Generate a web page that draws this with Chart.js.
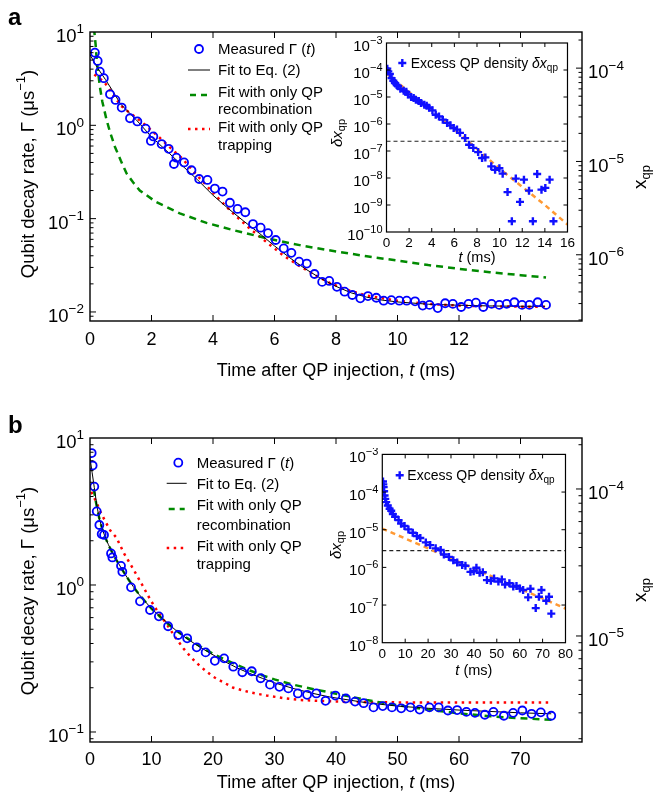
<!DOCTYPE html>
<html><head><meta charset="utf-8">
<script src="https://cdn.jsdelivr.net/npm/chart.js@4.4.1/dist/chart.umd.min.js"></script>
<style>
html,body{margin:0;padding:0;background:#fff;}
#wrap{position:relative;width:657px;height:800px;background:#fff;overflow:hidden;}
canvas{position:absolute;}
</style></head><body>
<div id="wrap">
<canvas id="mainA" width="657" height="400" style="left:0;top:0;width:657px;height:400px"></canvas>
<canvas id="mainB" width="657" height="400" style="left:0;top:400px;width:657px;height:400px"></canvas>
<canvas id="insetA" width="250" height="236" style="left:328px;top:36px;width:250px;height:236px"></canvas>
<canvas id="insetB" width="250" height="236" style="left:326px;top:448px;width:250px;height:236px"></canvas>
</div>
<script>
// ---------------- DATA: panel a (main) ----------------
const aTime = [0.16,0.25,0.32,0.45,0.65,0.83,1.03,1.3,1.54,1.81,1.98,2.06,2.33,2.56,2.73,2.81,3.06,3.3,3.55,3.82,4.06,4.31,4.55,4.8,5.05,5.3,5.55,5.79,6.04,6.3,6.55,6.8,7.05,7.3,7.55,7.78,8.03,8.28,8.53,8.79,9.04,9.31,9.55,9.8,10.06,10.3,10.57,10.82,11.04,11.31,11.55,11.8,12.07,12.31,12.55,12.79,13.06,13.31,13.55,13.8,14.05,14.29,14.56,14.83];
const aGamma = [6.0,4.9,3.76,3.2,2.15,1.87,1.55,1.19,1.1,0.92,0.68,0.76,0.63,0.56,0.385,0.45,0.40,0.33,0.266,0.26,0.21,0.195,0.148,0.127,0.117,0.0875,0.080,0.070,0.059,0.048,0.043,0.0346,0.033,0.0255,0.021,0.0215,0.0186,0.0165,0.0152,0.014,0.0148,0.0142,0.0132,0.0134,0.0132,0.0132,0.013,0.0117,0.0119,0.011,0.0124,0.0122,0.0113,0.0122,0.0126,0.0113,0.0122,0.0119,0.0122,0.0127,0.0119,0.0119,0.0127,0.0119];
const aFitT = [0,0.25,0.5,0.75,1,1.5,2,2.5,3,3.5,4,4.5,5,5.5,6,6.5,7,7.5,8,8.5,9,9.5,10,11,12,13,14,14.8];
const aFitGamma = [5.7,4.1,3.1,2.3,1.68,1.15,0.75,0.53,0.37,0.26,0.178,0.128,0.094,0.07,0.051,0.038,0.029,0.0229,0.0188,0.016,0.0144,0.0134,0.0128,0.0121,0.0118,0.0116,0.0115,0.0115];
const aRecT = [0.13,0.18,0.22,0.27,0.32,0.4,0.54,0.65,0.81,1.0,1.19,1.4,1.62,2.16,2.92,3.79,4.65,5.74,6.82,7.73,9,10,11,12,13,14,14.83];
const aRecGamma = [11,7.5,5,3.6,2.6,1.8,1.14,0.85,0.59,0.42,0.305,0.245,0.2,0.15,0.114,0.09,0.0755,0.0616,0.052,0.046,0.0395,0.0355,0.0318,0.029,0.0267,0.0248,0.0234];
const aTrapT = [0.14,0.3,0.45,0.65,0.83,1.03,1.3,1.55,1.81,2.2,2.6,3.0,3.57,4.1,4.65,5.2,5.74,6.3,6.82,7.3,7.8,8.3,9,10,11,12,13,14,14.8];
const aTrapGamma = [3.5,3.2,2.95,2.4,1.95,1.6,1.35,1.18,1.0,0.77,0.58,0.44,0.27,0.175,0.114,0.078,0.056,0.04,0.031,0.025,0.0205,0.0175,0.015,0.0132,0.0122,0.0117,0.0115,0.0114,0.0114];
const aXTicks = [0,2,4,6,8,10,12,14];
const aXTickLabels = ['0','2','4','6','8','10','12',''];
const aYTicks = [0.01,0.1,1,10];
const aYTickLabels = ['10⁻²','10⁻¹','10⁰','10¹'];
const aXqpTicks = [1e-6,1e-5,1e-4];
const aXqpTickLabels = ['10⁻⁶','10⁻⁵','10⁻⁴'];
const aGammaAtXqp1e4 = 4.1;   // Γ value that lines up with x_qp = 1e-4

// ---------------- DATA: panel a (inset) ----------------
const iaTime = [0.07,0.16,0.3,0.45,0.6,0.74,0.9,1.03,1.23,1.52,1.75,1.9,2.18,2.4,2.6,2.85,3.05,3.34,3.55,3.77,4.06,4.35,4.64,4.98,5.36,5.65,5.94,6.23,6.5,6.95,7.3,7.67,8.1,8.45,8.74,9.26,9.6,9.98,10.27,10.7,11.08,11.43,11.8,12.15,12.6,12.94,13.32,13.7,14.04,14.42,14.76];
const iaDx = [1.12e-4,8.9e-5,7.1e-5,5.0e-5,4.0e-5,3.3e-5,2.8e-5,2.5e-5,2.0e-5,1.7e-5,1.55e-5,1.23e-5,1.0e-5,9.1e-6,7.9e-6,7.1e-6,6.0e-6,5.2e-6,4.7e-6,4.0e-6,3.2e-6,2.2e-6,1.9e-6,1.45e-6,1.1e-6,8.9e-7,7.1e-7,6.2e-7,4.7e-7,3.0e-7,1.7e-7,1.3e-7,9.1e-8,5.5e-8,5.8e-8,2.7e-8,2.0e-8,2.3e-8,1.45e-8,3.0e-9,2.5e-10,9.5e-9,1.3e-9,8.7e-9,3.4e-9,2.5e-10,1.4e-8,3.7e-9,4.3e-9,8.7e-9,2.5e-10];
const iaFitT = [0,2,4,6,8,10,12,14,16];
const iaFitDx = [7.6e-5,1.5e-5,3.2e-6,6.3e-7,1.2e-7,2.2e-8,4.7e-9,1.0e-9,1.9e-10];
const iaThreshold = 2.3e-7;
const iaXTicks = [0,2,4,6,8,10,12,14,16];
const iaXTickLabels = ['0','2','4','6','8','10','12','14','16'];
const iaYTicks = [1e-10,1e-9,1e-8,1e-7,1e-6,1e-5,1e-4,1e-3];
const iaYTickLabels = ['10⁻¹⁰','10⁻⁹','10⁻⁸','10⁻⁷','10⁻⁶','10⁻⁵','10⁻⁴','10⁻³'];

// ---------------- DATA: panel b (main) ----------------
const bTime = [0.27,0.43,0.7,1.09,1.52,1.9,2.28,3.42,3.64,5.04,5.26,6.67,8.13,9.76,11.2,12.7,14.35,15.8,17.35,18.8,20.3,21.8,23.3,24.77,26.3,27.75,29.27,30.8,32.25,33.8,35.3,36.8,38.3,39.9,41.6,43.1,44.5,46.1,47.6,49.1,50.6,52.1,53.6,55.2,56.7,58.2,59.7,61.2,62.6,64.2,65.6,67.3,68.8,70.3,71.8,73.3,75.0];
const bGamma = [7.9,6.5,4.67,3.17,2.56,2.22,2.19,1.64,1.54,1.35,1.23,0.964,0.774,0.676,0.612,0.524,0.457,0.434,0.377,0.348,0.305,0.317,0.278,0.255,0.259,0.232,0.21,0.203,0.198,0.183,0.179,0.183,0.163,0.177,0.169,0.161,0.157,0.147,0.15,0.147,0.145,0.147,0.142,0.147,0.147,0.14,0.141,0.137,0.135,0.131,0.137,0.129,0.135,0.14,0.133,0.136,0.129];
const bFitT = [0,0.35,0.7,1.1,1.5,2,2.5,3,3.5,4,5,6,7,8,10,12,14,16,18,20,22,24,26,28,30,33,36,39,45,50,55,60,65,70,75];
const bFitGamma = [7.3,5.8,4.6,3.5,2.85,2.4,2.1,1.88,1.7,1.56,1.32,1.13,0.98,0.86,0.69,0.58,0.49,0.425,0.375,0.335,0.3,0.272,0.25,0.232,0.216,0.198,0.184,0.173,0.158,0.15,0.145,0.141,0.138,0.135,0.133];
const bRecT = [0.6,1,1.5,2,2.5,3,4,5,6,7,8,10,12,14,16,18,20,22,24,26,28,30,33,36,39,45,50,55,60,65,70,75];
const bRecGamma = [4.5,3.6,2.85,2.4,2.1,1.87,1.55,1.32,1.13,0.98,0.86,0.69,0.575,0.49,0.43,0.38,0.34,0.31,0.285,0.262,0.243,0.228,0.21,0.197,0.186,0.165,0.152,0.142,0.134,0.128,0.124,0.121];
const bTrapT = [0.2,1,1.6,2.5,3.3,4.3,5.5,7.05,8.5,9.76,11,12.5,13.8,15.2,16.5,17.9,20,23.3,26,28.7,31.5,34.2,38.5,42,50,60,70,75];
const bTrapGamma = [4.3,3.7,3.2,2.7,2.35,2.1,1.65,1.28,1.0,0.8,0.66,0.54,0.445,0.37,0.32,0.28,0.238,0.2,0.186,0.177,0.17,0.165,0.162,0.16,0.159,0.159,0.159,0.159];
const bXTicks = [0,10,20,30,40,50,60,70];
const bXTickLabels = ['0','10','20','30','40','50','60','70'];
const bYTicks = [0.1,1,10];
const bYTickLabels = ['10⁻¹','10⁰','10¹'];
const bXqpTicks = [1e-5,1e-4];
const bXqpTickLabels = ['10⁻⁵','10⁻⁴'];
const bGammaAtXqp1e4 = 4.5;

// ---------------- DATA: panel b (inset) ----------------
const ibTime = [0.3,0.45,0.6,0.8,1.0,1.3,1.7,2.4,3.2,3.9,4.6,5.6,7.1,8.2,9.7,11.4,13.3,15.1,16.6,19,20.9,23.3,25.5,26.9,29.1,31,32.7,34.9,36.3,38.5,39.9,41.1,42.5,43.9,45.7,47.4,48.8,50.7,52.2,53.6,55.5,57.2,58.6,60.1,61.5,63.7,64.7,67,68.4,69.5,71.6,72.8,73.8];
const ibDx = [1.9e-4,1.6e-4,1.35e-4,1.05e-4,8.1e-5,6.6e-5,5.4e-5,4.4e-5,3.6e-5,3.2e-5,2.6e-5,2.2e-5,1.8e-5,1.45e-5,1.26e-5,1.02e-5,8.3e-6,6.8e-6,6.0e-6,4.6e-6,3.9e-6,3.2e-6,2.9e-6,2.2e-6,1.9e-6,1.55e-6,1.35e-6,1.15e-6,1.1e-6,7.6e-7,7.9e-7,9.8e-7,7.2e-7,7.4e-7,4.6e-7,4.4e-7,5.1e-7,4.2e-7,4.8e-7,3.5e-7,3.8e-7,3.1e-7,3.2e-7,2.75e-7,2.5e-7,1.6e-7,2.7e-7,8.3e-8,1.66e-7,2.5e-7,1.3e-7,1.66e-7,5.9e-8];
const ibFitT = [0,20,40,60,80];
const ibFitDx = [1.07e-5,3.2e-6,9.3e-7,2.75e-7,8.1e-8];
const ibThreshold = 2.8e-6;
const ibXTicks = [0,10,20,30,40,50,60,70,80];
const ibXTickLabels = ['0','10','20','30','40','50','60','70','80'];
const ibYTicks = [1e-8,1e-7,1e-6,1e-5,1e-4,1e-3];
const ibYTickLabels = ['10⁻⁸','10⁻⁷','10⁻⁶','10⁻⁵','10⁻⁴','10⁻³'];

// ---------------- text ----------------
const legendMain = ['Measured Γ (t)','Fit to Eq. (2)','Fit with only QP recombination','Fit with only QP trapping'];
const legendInset = 'Excess QP density δxqp';
const yTitleMain = 'Qubit decay rate, Γ (μs⁻¹)';
const xTitleMain = 'Time after QP injection, t (ms)';
const xTitleInset = 't (ms)';

// ---------------- helpers ----------------
const FONT = "'Liberation Sans', Arial, 'DejaVu Sans', sans-serif";
const BLUE = '#0000ff', BLUE2 = '#1010ff', GREEN = '#008a00', RED = '#ff0000', ORANGE = '#ff9933';
Chart.defaults.font.family = FONT;
Chart.defaults.color = '#000';
const pts = (xs, ys) => xs.map((x, i) => ({x, y: ys[i]}));
const near = (a, b) => Math.abs(a - b) <= 1e-9 * Math.max(Math.abs(a), Math.abs(b));
const labelFor = (vals, labels) => (v) => { const i = vals.findIndex(t => near(t, v)); return i >= 0 ? labels[i] : ''; };
const setTicks = (vals) => (s) => { s.ticks = vals.map(v => ({value: v})); };
const noGrid = {display: false, drawTicks: false, tickLength: 0, drawOnChartArea: false};
const SUPMAP = {'⁻': '−', '⁰': '0', '¹': '1', '²': '2', '³': '3', '⁴': '4', '⁵': '5', '⁶': '6', '⁷': '7', '⁸': '8', '⁹': '9'};

function rich(ctx, parts, x, y, opt = {}) {
  ctx.save();
  ctx.translate(x, y);
  if (opt.rot) ctx.rotate(opt.rot);
  ctx.textBaseline = opt.baseline || 'alphabetic';
  const ws = parts.map(p => { ctx.font = p.f; return ctx.measureText(p.t).width; });
  const w = ws.reduce((a, b) => a + b, 0);
  let cx = opt.align === 'center' ? -w / 2 : opt.align === 'right' ? -w : 0;
  parts.forEach((p, i) => { ctx.font = p.f; ctx.fillStyle = p.c || '#000'; ctx.fillText(p.t, cx, p.dy || 0); cx += ws[i]; });
  ctx.restore();
}

// split "... t ..." titles so the variable t is drawn in italics
function italicT(text, size) {
  const i = text.lastIndexOf('t (');
  const f = size + 'px ' + FONT;
  return [{t: text.slice(0, i), f}, {t: 't', f: 'italic ' + f}, {t: text.slice(i + 1), f}];
}

// power-of-ten tick labels ("10" + raised exponent), placed with the library's scale
function powLabels(ctx, scale, vals, labels, x, align, size, expSize, shift) {
  vals.forEach((v, i) => {
    const p = scale.getPixelForValue(v);
    const lbl = labels[i];
    const base = lbl.slice(0, 2);
    const exp = [...lbl.slice(2)].map(c => SUPMAP[c] || c).join('');
    rich(ctx, [{t: base, f: size + 'px ' + FONT}, {t: exp, f: expSize + 'px ' + FONT, dy: -0.47 * size}],
      x, p + 0.36 * size + shift, {align});
  });
}

const framePlugin = {
  id: 'frame',
  afterDatasetsDraw(chart, args, o) {
    const {ctx, chartArea: a} = chart;
    ctx.save();
    ctx.strokeStyle = '#000';
    ctx.lineWidth = o.boxWidth;
    ctx.strokeRect(a.left, a.top, a.right - a.left, a.bottom - a.top);
    ctx.lineWidth = 1;
    ctx.beginPath();
    const xs = chart.scales.x;
    for (const v of o.xTicks) {
      const p = xs.getPixelForValue(v);
      if (p <= a.left + 1 || p >= a.right - 1) continue;
      ctx.moveTo(p, a.bottom); ctx.lineTo(p, a.bottom - o.major);
      ctx.moveTo(p, a.top); ctx.lineTo(p, a.top + o.major);
    }
    const side = (scale, x0, dir) => {
      const lo = Math.floor(Math.log10(scale.min)), hi = Math.ceil(Math.log10(scale.max));
      for (let d = lo; d <= hi; d++) for (let m = 1; m <= 9; m++) {
        if (m > 1 && !o.minor) continue;
        const v = m * Math.pow(10, d);
        if (v < scale.min * (1 - 1e-9) || v > scale.max * (1 + 1e-9)) continue;
        const p = scale.getPixelForValue(v);
        if (p <= a.top + 1 || p >= a.bottom - 1) continue;
        const len = m === 1 ? o.major : o.minorLen;
        ctx.moveTo(x0, p); ctx.lineTo(x0 + dir * len, p);
      }
    };
    side(chart.scales.y, a.left, 1);
    side(chart.scales[o.right], a.right, -1);
    ctx.stroke();
    ctx.restore();
  }
};

const decoPlugin = {
  id: 'deco',
  afterDraw(chart, args, o) { o.draw(chart.ctx, chart); }
};

function mainLegend(ctx, L) {
  const f = '15px ' + FONT, fi = 'italic 15px ' + FONT;
  ctx.save();
  ctx.strokeStyle = BLUE; ctx.lineWidth = 1.8;
  ctx.beginPath(); ctx.arc(L.mx, L.rows[0], 4, 0, Math.PI * 2); ctx.stroke();
  rich(ctx, [{t: 'Measured Γ (', f}, {t: 't', f: fi}, {t: ')', f}], L.tx, L.rows[0] + 5.4);
  ctx.strokeStyle = '#000'; ctx.lineWidth = 1;
  ctx.beginPath(); ctx.moveTo(L.lx0, L.rows[1]); ctx.lineTo(L.lx1, L.rows[1]); ctx.stroke();
  rich(ctx, [{t: legendMain[1], f}], L.tx, L.rows[1] + 5.4);
  ctx.strokeStyle = GREEN; ctx.lineWidth = 2.5; ctx.setLineDash([6, 5]);
  ctx.beginPath(); ctx.moveTo(L.lx0 + 2, L.gy); ctx.lineTo(L.lx1 - 2, L.gy); ctx.stroke();
  rich(ctx, [{t: 'Fit with only QP', f}], L.tx, L.rows[2] + 5.4);
  rich(ctx, [{t: 'recombination', f}], L.tx, L.rows[3] + 5.4);
  ctx.strokeStyle = RED; ctx.lineWidth = 2.5; ctx.setLineDash([2.5, 4.5]);
  ctx.beginPath(); ctx.moveTo(L.lx0, L.ry); ctx.lineTo(L.lx1, L.ry); ctx.stroke();
  ctx.setLineDash([]);
  rich(ctx, [{t: 'Fit with only QP', f}], L.tx, L.rows[4] + 5.4);
  rich(ctx, [{t: 'trapping', f}], L.tx, L.rows[5] + 5.4);
  ctx.restore();
}

function yTitle(ctx, x, y) {
  const f = '18.5px ' + FONT;
  rich(ctx, [{t: 'Qubit decay rate, Γ (μs', f}, {t: '−1', f: '13px ' + FONT, dy: -7.5}, {t: ')', f}], x, y,
    {align: 'center', rot: -Math.PI / 2, baseline: 'middle'});
}
function xqpTitle(ctx, x, y) {
  rich(ctx, [{t: 'x', f: '19px ' + FONT}, {t: 'qp', f: '13px ' + FONT, dy: 5}], x, y, {align: 'center', rot: -Math.PI / 2, baseline: 'middle'});
}

function makeMain(id, P) {
  const k = 1e-4 / P.gammaAt1e4;
  return new Chart(document.getElementById(id), {
    type: 'line',
    data: {datasets: [
      {label: legendMain[0], data: pts(P.t, P.g), showLine: false, pointStyle: 'circle', pointRadius: 4, pointBorderWidth: 1.8, pointBorderColor: BLUE, pointBackgroundColor: 'rgba(0,0,0,0)', borderColor: BLUE},
      {label: legendMain[1], data: pts(P.fitT, P.fitG), borderColor: '#000', borderWidth: 1, pointRadius: 0, tension: 0},
      {label: legendMain[2], data: pts(P.recT, P.recG), borderColor: GREEN, borderWidth: 2.5, borderDash: [7, 5], pointRadius: 0, tension: 0},
      {label: legendMain[3], data: pts(P.trapT, P.trapG), borderColor: RED, borderWidth: 2.5, borderDash: [2.5, 4.5], pointRadius: 0, tension: 0}
    ]},
    options: {
      responsive: false, animation: false, events: [],
      layout: {padding: {top: P.padTop, left: 0, right: 0, bottom: 0}},
      plugins: {
        legend: {display: false}, tooltip: {enabled: false},
        frame: {boxWidth: 1.4, major: 6, minor: true, minorLen: 3.5, xTicks: P.xTicks, right: 'y2'},
        deco: {draw: (ctx, chart) => {
          const a = chart.chartArea;
          powLabels(ctx, chart.scales.y, P.yTicks, P.yLabels, a.left - 6, 'right', 18.5, 13.5, 3.5);
          powLabels(ctx, chart.scales.y2, P.qTicks, P.qLabels, a.right + 6, 'left', 18.5, 13.5, 3.5);
          yTitle(ctx, 29, P.yTitleY);
          rich(ctx, italicT(xTitleMain, 18), (a.left + a.right) / 2, P.xTitleY, {align: 'center', baseline: 'middle'});
          P.deco(ctx);
        }}
      },
      scales: {
        x: {type: 'linear', min: 0, max: P.xMax, grid: noGrid, border: {display: false},
            afterBuildTicks: setTicks(P.xTicks),
            ticks: {callback: labelFor(P.xTicks, P.xLabels), autoSkip: false, maxRotation: 0, font: {size: 18}, padding: P.xTickPad},
            title: {display: false, text: xTitleMain},
            afterFit: (s) => { s.height = P.bottomH; }},
        y: {type: 'logarithmic', position: 'left', min: P.yMin, max: P.yMax, grid: noGrid, border: {display: false},
            afterBuildTicks: setTicks(P.yTicks),
            ticks: {display: false, callback: labelFor(P.yTicks, P.yLabels)},
            title: {display: false, text: yTitleMain},
            afterFit: (s) => { s.width = 90; }},
        y2: {type: 'logarithmic', position: 'right', min: P.yMin * k, max: P.yMax * k, grid: noGrid, border: {display: false},
            afterBuildTicks: setTicks(P.qTicks),
            ticks: {display: false, callback: labelFor(P.qTicks, P.qLabels)},
            afterFit: (s) => { s.width = 75; }}
      }
    },
    plugins: [framePlugin, decoPlugin]
  });
}

function makeInset(id, P) {
  return new Chart(document.getElementById(id), {
    type: 'line',
    data: {datasets: [
      {label: legendInset, data: pts(P.t, P.v), showLine: false, pointStyle: 'cross', pointRadius: 4, pointBorderWidth: 2.4, pointBorderColor: BLUE2, borderColor: BLUE2},
      {label: 'Fit', data: pts(P.fitT, P.fitV), borderColor: ORANGE, borderWidth: 2.5, borderDash: [5, 4], pointRadius: 0, tension: 0},
      {label: 'Threshold', data: [{x: P.xMin, y: P.thr}, {x: P.xMax, y: P.thr}], borderColor: '#222', borderWidth: 1.2, borderDash: [4, 3], pointRadius: 0}
    ]},
    options: {
      responsive: false, animation: false, events: [],
      layout: {padding: {top: P.padTop, left: 0, right: P.padRight, bottom: 0}},
      plugins: {
        legend: {display: false}, tooltip: {enabled: false},
        frame: {boxWidth: 1.2, major: 4, minor: false, minorLen: 2, xTicks: P.xTicks, right: 'y'},
        deco: {draw: (ctx, chart) => {
          const a = chart.chartArea;
          powLabels(ctx, chart.scales.y, P.yTicks, P.yLabels, a.left - 4, 'right', 15, 11, 2.5);
          rich(ctx, italicT(xTitleInset, 14.5), (a.left + a.right) / 2, P.xTitleY, {align: 'center', baseline: 'middle'});
          P.deco(ctx);
        }}
      },
      scales: {
        x: {type: 'linear', min: P.xMin, max: P.xMax, grid: noGrid, border: {display: false},
            afterBuildTicks: setTicks(P.xTicks),
            ticks: {callback: labelFor(P.xTicks, P.xLabels), autoSkip: false, maxRotation: 0, font: {size: 13.5}, padding: 3},
            title: {display: false, text: xTitleInset},
            afterFit: (s) => { s.height = P.bottomH; }},
        y: {type: 'logarithmic', min: P.yMin, max: P.yMax, grid: noGrid, border: {display: false},
            afterBuildTicks: setTicks(P.yTicks),
            ticks: {display: false, callback: labelFor(P.yTicks, P.yLabels)},
            afterFit: (s) => { s.width = P.leftW; }}
      }
    },
    plugins: [framePlugin, decoPlugin]
  });
}

function insetDeco(L) {
  return (ctx) => {
    ctx.save();
    ctx.strokeStyle = BLUE2; ctx.lineWidth = 2.4;
    ctx.beginPath();
    ctx.moveTo(L.cx - 4, L.cy); ctx.lineTo(L.cx + 4, L.cy);
    ctx.moveTo(L.cx, L.cy - 4); ctx.lineTo(L.cx, L.cy + 4);
    ctx.stroke();
    ctx.restore();
    const f = '14px ' + FONT, fi = 'italic 14px ' + FONT;
    rich(ctx, [{t: 'Excess QP density ', f}, {t: 'δx', f: fi}, {t: 'qp', f: '10px ' + FONT, dy: 3}], L.tx, L.cy + 5);
    rich(ctx, [{t: 'δx', f: 'italic 15px ' + FONT}, {t: 'qp', f: '11px ' + FONT, dy: 4}], L.yx, L.yy, {align: 'center', rot: -Math.PI / 2, baseline: 'middle'});
  };
}

// ---------------- charts ----------------
makeMain('mainA', {
  t: aTime, g: aGamma, fitT: aFitT, fitG: aFitGamma, recT: aRecT, recG: aRecGamma, trapT: aTrapT, trapG: aTrapGamma,
  xMax: 16, xTicks: aXTicks, xLabels: aXTickLabels, yMin: 0.008, yMax: 10, yTicks: aYTicks, yLabels: aYTickLabels,
  qTicks: aXqpTicks, qLabels: aXqpTickLabels, gammaAt1e4: aGammaAtXqp1e4,
  padTop: 32, bottomH: 79, xTickPad: 8, xTitleY: 371, yTitleY: 174,
  deco: (ctx) => {
    rich(ctx, [{t: 'a', f: 'bold 24px ' + FONT}], 8, 25);
    xqpTitle(ctx, 641, 177);
    mainLegend(ctx, {mx: 199, tx: 218, lx0: 188, lx1: 210, rows: [49, 70, 91.7, 108.3, 126.7, 145], gy: 95, ry: 129});
  }
});
makeMain('mainB', {
  t: bTime, g: bGamma, fitT: bFitT, fitG: bFitGamma, recT: bRecT, recG: bRecGamma, trapT: bTrapT, trapG: bTrapGamma,
  xMax: 80, xTicks: bXTicks, xLabels: bXTickLabels, yMin: 0.0855, yMax: 10, yTicks: bYTicks, yLabels: bYTickLabels,
  qTicks: bXqpTicks, qLabels: bXqpTickLabels, gammaAt1e4: bGammaAtXqp1e4,
  padTop: 38, bottomH: 58, xTickPad: 7, xTitleY: 383, yTitleY: 191,
  deco: (ctx) => {
    rich(ctx, [{t: 'b', f: 'bold 24px ' + FONT}], 8, 33);
    xqpTitle(ctx, 641, 190);
    mainLegend(ctx, {mx: 178.3, tx: 196.7, lx0: 166.7, lx1: 186.7, rows: [62.7, 83.3, 105, 124.3, 146, 163.3], gy: 109, ry: 148});
  }
});
makeInset('insetA', {
  t: iaTime, v: iaDx, fitT: iaFitT, fitV: iaFitDx, thr: iaThreshold,
  xMin: 0, xMax: 16, xTicks: iaXTicks, xLabels: iaXTickLabels, yMin: 1e-10, yMax: 1e-3, yTicks: iaYTicks, yLabels: iaYTickLabels,
  padTop: 7, padRight: 7, leftW: 58.5, bottomH: 40, xTitleY: 222,
  deco: insetDeco({cx: 74.3, cy: 27, tx: 82.7, yx: 10, yy: 97})
});
makeInset('insetB', {
  t: ibTime, v: ibDx, fitT: ibFitT, fitV: ibFitDx, thr: ibThreshold,
  xMin: 0, xMax: 80, xTicks: ibXTicks, xLabels: ibXTickLabels, yMin: 1e-8, yMax: 1e-3, yTicks: ibYTicks, yLabels: ibYTickLabels,
  padTop: 5.3, padRight: 8.7, leftW: 56.3, bottomH: 41.3, xTitleY: 223,
  deco: insetDeco({cx: 73.7, cy: 27.3, tx: 81.3, yx: 11, yy: 97})
});
</script>
</body></html>
